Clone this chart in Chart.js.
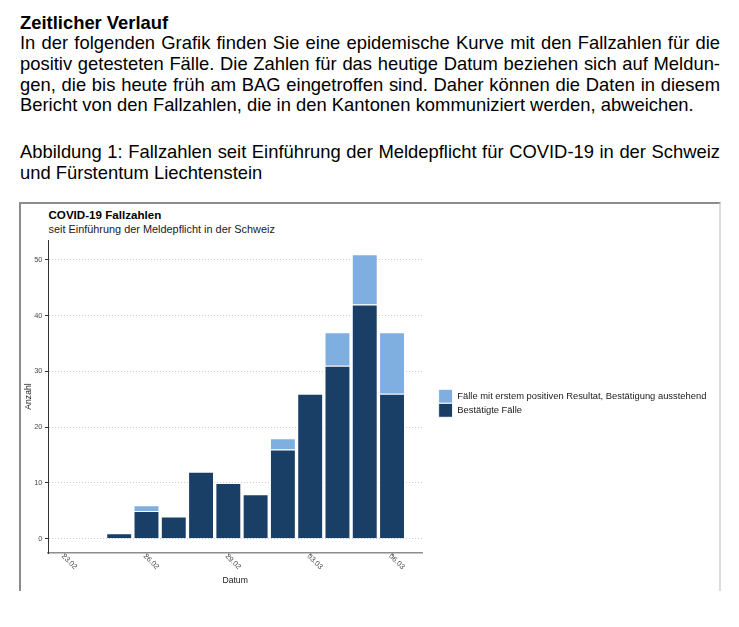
<!DOCTYPE html>
<html lang="de">
<head>
<meta charset="utf-8">
<title>COVID-19 Fallzahlen</title>
<script src="https://cdn.jsdelivr.net/npm/chart.js@4.4.1/dist/chart.umd.min.js"></script>
<style>
  html, body { margin: 0; padding: 0; background: #fff; }
  body { width: 739px; height: 627px; position: relative; overflow: hidden;
         font-family: "Liberation Sans", Arial, sans-serif; color: #000; }
  .txt { position: absolute; left: 20px; width: 700px; font-size: 18.4px; line-height: 20.7px; }
  .txt div { white-space: nowrap; }
  .j { text-align: justify; text-align-last: justify; }
  #heading { top: 13.3px; font-weight: bold; }
  #body { top: 33.3px; }
  #caption { top: 141.9px; }
  #frame { position: absolute; left: 19px; top: 202px; width: 698px; height: 387px;
           border-top: 2px solid #8c8c8c; border-left: 2px solid #8c8c8c; border-right: 2px solid #dcdcdc; }
  #ctitle { position: absolute; left: 48.5px; top: 208.5px; font-size: 11.6px; line-height: 11.6px;
            font-weight: bold; white-space: nowrap; color: #000; }
  #csub { position: absolute; left: 48.5px; top: 224.1px; font-size: 10.9px; line-height: 10.9px;
          white-space: nowrap; color: #1a1a1a; }
  #wrap { position: absolute; left: 22px; top: 205px; width: 696px; height: 383px; }
</style>
</head>
<body>
<div class="txt" id="heading">Zeitlicher Verlauf</div>
<div class="txt" id="body">
  <div class="j">In der folgenden Grafik finden Sie eine epidemische Kurve mit den Fallzahlen für die</div>
  <div class="j">positiv getesteten Fälle. Die Zahlen für das heutige Datum beziehen sich auf Meldun-</div>
  <div class="j">gen, die bis heute früh am BAG eingetroffen sind. Daher können die Daten in diesem</div>
  <div>Bericht von den Fallzahlen, die in den Kantonen kommuniziert werden, abweichen.</div>
</div>
<div class="txt" id="caption">
  <div class="j">Abbildung 1: Fallzahlen seit Einführung der Meldepflicht für COVID-19 in der Schweiz</div>
  <div>und Fürstentum Liechtenstein</div>
</div>
<div id="frame"></div>
<div id="ctitle">COVID-19 Fallzahlen</div>
<div id="csub">seit Einführung der Meldepflicht in der Schweiz</div>
<div id="wrap"><canvas id="chart"></canvas></div>
<script>
// Tage seit Einführung der Meldepflicht
const dates = ['23.02', '24.02', '25.02', '26.02', '27.02', '28.02', '29.02',
               '01.03', '02.03', '03.03', '04.03', '05.03', '06.03'];
const bestaetigt = [0, 0, 1, 5, 4, 12, 10, 8, 16, 26, 31, 42, 26];
const ausstehend = [0, 0, 0, 1, 0, 0, 0, 0, 2, 0, 6, 9, 11];
const xTickLabels = ['23.02', '26.02', '29.02', '03.03', '06.03'];
const yTicks = [0, 10, 20, 30, 40, 50];

const FONT = '"Liberation Sans", Arial, sans-serif';
Chart.defaults.font.family = FONT;
Chart.defaults.color = '#1a1a1a';

// Datumsbeschriftung schräg nach rechts unten (wie im Original)
const schraegeDaten = {
  id: 'schraegeDaten',
  afterDraw(chart) {
    const sx = chart.scales.x;
    const ctx = chart.ctx;
    ctx.save();
    ctx.font = '7.5px ' + FONT;
    ctx.fillStyle = '#4d4d4d';
    ctx.textAlign = 'left';
    ctx.textBaseline = 'middle';
    sx.ticks.forEach(t => {
      const px = sx.getPixelForValue(t.value);
      ctx.save();
      ctx.translate(px - 2, chart.chartArea.bottom + 2);
      ctx.rotate(Math.PI / 4);
      ctx.fillText(dates[t.value], 0, 0);
      ctx.restore();
    });
    ctx.restore();
  }
};

new Chart(document.getElementById('chart'), {
  type: 'bar',
  data: {
    datasets: [{
      label: 'Bestätigte Fälle',
      data: dates.map((d, i) => ({ x: i, y: bestaetigt[i] })),
      backgroundColor: '#1a3f66',
      borderColor: '#ffffff',
      borderWidth: 1,
      barPercentage: 0.95,
      categoryPercentage: 1
    }, {
      label: 'Fälle mit erstem positiven Resultat, Bestätigung ausstehend',
      data: dates.map((d, i) => ({ x: i, y: ausstehend[i] })),
      backgroundColor: '#7faee0',
      borderColor: '#ffffff',
      borderWidth: 1,
      barPercentage: 0.95,
      categoryPercentage: 1
    }]
  },
  options: {
    responsive: true,
    maintainAspectRatio: false,
    animation: false,
    layout: { padding: { top: 35, right: 1.6, bottom: 0, left: 0 } },
    scales: {
      x: {
        type: 'linear',
        stacked: true,
        min: -0.61,
        max: 13.11,
        offset: false,
        afterBuildTicks: s => { s.ticks = xTickLabels.map(l => ({ value: dates.indexOf(l) })); },
        afterFit: s => { s.height = 35; },
        grid: { display: true, drawOnChartArea: false, drawTicks: true, tickLength: 3,
                tickColor: '#8c8c8c', offset: false },
        border: { color: '#8c8c8c', width: 1.5 },
        ticks: { display: false },
        title: { display: true, text: 'Datum', font: { size: 8.6 }, color: '#1a1a1a',
                 padding: { top: 0, bottom: 2.5 } }
      },
      y: {
        stacked: true,
        min: -2.55,
        max: 53.55,
        afterBuildTicks: s => { s.ticks = yTicks.map(v => ({ value: v })); },
        afterFit: s => { s.width = 26; },
        grid: { color: '#cccccc', lineWidth: 1, tickLength: 3, tickColor: '#333333',
                tickBorderDash: [], borderDash: [1, 2] },
        border: { color: '#333333', width: 1, dash: [1, 2] },
        ticks: { font: { size: 7.5 }, color: '#4d4d4d', padding: 2.5 },
        title: { display: true, text: 'Anzahl', font: { size: 8.6 }, color: '#1a1a1a',
                 padding: { top: 1, bottom: 0 } }
      },
      abstand: {
        type: 'linear',
        position: 'right',
        display: true,
        grid: { display: false, drawTicks: false },
        border: { display: false },
        ticks: { display: false },
        afterFit: s => { s.width = 16.3; }
      }
    },
    plugins: {
      legend: {
        position: 'right',
        align: 'center',
        fullSize: false,
        reverse: true,
        maxWidth: 300,
        title: { display: true, text: '', font: { size: 10, lineHeight: 1 },
                 padding: { top: 3.6, bottom: 0 } },
        labels: { boxWidth: 14, boxHeight: 14, padding: 0,
                  font: { size: 9.4 }, color: '#1a1a1a' }
      },
      tooltip: { enabled: false }
    }
  },
  plugins: [schraegeDaten]
});
</script>
</body>
</html>
